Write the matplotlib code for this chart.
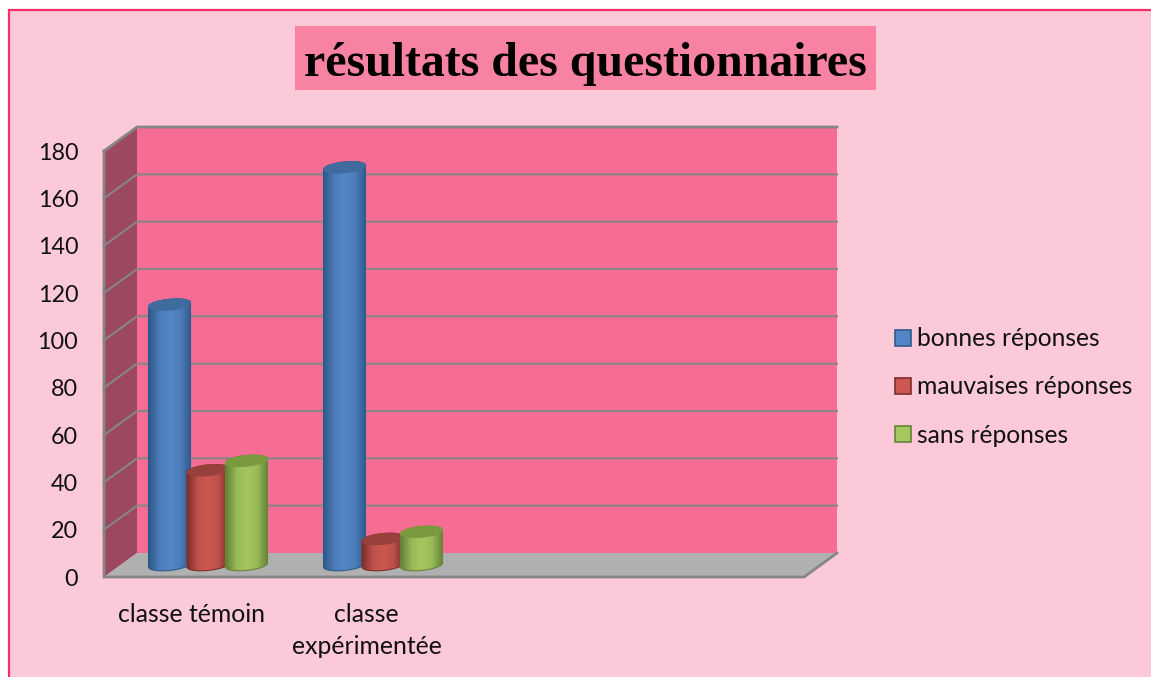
import matplotlib
matplotlib.use('Agg')
import matplotlib.pyplot as plt
import numpy as np
from matplotlib.patches import Patch, Polygon, Rectangle

# values
categories = ["classe témoin", "classe\nexpérimentée", "", ""]
bonnes = [110, 168]
mauvaises = [40, 11]
sans = [44, 14]
series_names = ["bonnes réponses", "mauvaises réponses", "sans réponses"]
yticks = list(range(0, 181, 20))

# edge, centre, top cap, legend fill
blues = ["#2f5b8c", "#5485c6", "#3f6b9f"]
reds = ["#7c2f2c", "#cd5852", "#97403c"]
greens = ["#66833a", "#a4c75f", "#7b9a40"]

BG = "#fcc9d9"
WALL = "#f66d94"
SIDE = "#9c4860"
FLOOR = "#b0b0b0"
GREY = "#868686"

W, H = 1151, 677
plt.rcParams['font.family'] = ['Lato', 'DejaVu Sans']
fig = plt.figure(figsize=(W / 100, H / 100), dpi=100, facecolor='white')

# outer frame runs off the right and bottom of the image
fig.add_artist(Rectangle((8.5 / W, -0.05), 1.1, 1.05 - 9.5 / H, transform=fig.transFigure,
                         facecolor=BG, edgecolor="#f5316c", linewidth=1.6, zorder=-2))
fig.add_artist(Rectangle((295 / W, 1 - 90 / H), 581 / W, 64 / H, transform=fig.transFigure,
                         facecolor="#f882a1", edgecolor='none', zorder=-1))

ax = fig.add_axes([104 / W, (H - 577) / H, 700 / W, 426 / H])
ax.patch.set_alpha(0)
for s in ax.spines.values():
    s.set_visible(False)

xmin, xmax = -0.5, 3.5
ymax = 180
# depth of the fake 3d box in data units
dx = 33 / 175
dy = 24 / (426 / 180)


def poly(points, **kw):
    p = Polygon(points, closed=True, clip_on=False, **kw)
    ax.add_patch(p)
    return p


poly([(xmin + dx, dy), (xmax + dx, dy), (xmax + dx, ymax + dy), (xmin + dx, ymax + dy)],
     facecolor=WALL, edgecolor='none', zorder=1)
poly([(xmin, 0), (xmin + dx, dy), (xmin + dx, ymax + dy), (xmin, ymax)],
     facecolor=SIDE, edgecolor='none', zorder=1)
poly([(xmin, 0), (xmax, 0), (xmax + dx, dy), (xmin + dx, dy)],
     facecolor=FLOOR, edgecolor='none', zorder=1)

for v in yticks[1:]:
    lw = 2.0 if v == ymax else 1.5
    ax.plot([xmin, xmin + dx, xmax + dx], [v, v + dy, v + dy], color=GREY, lw=lw,
            clip_on=False, zorder=2, solid_joinstyle='miter')
ax.plot([xmin, xmin, xmax, xmax + dx], [ymax, 0, 0, dy], color=GREY, lw=2.0,
        clip_on=False, zorder=2, solid_joinstyle='miter')


def cylinder(x, value, cols, z):
    a = 0.12
    b = 2.3
    tilt = 0.85
    t1 = np.linspace(np.pi, 2 * np.pi, 40)
    t2 = np.linspace(0, np.pi, 40)
    x0 = x + dx / 2
    y0 = dy / 2
    bottom = np.c_[x0 + a * np.cos(t1), y0 + b * np.sin(t1) + tilt * np.cos(t1)]
    top = np.c_[x0 + a * np.cos(t2), y0 + value + b * np.sin(t2) + tilt * np.cos(t2)]
    body = poly(np.r_[bottom, top], facecolor='none', edgecolor=cols[0], lw=0.8, zorder=z + 0.1)
    # shaded side of the cylinder
    c0 = np.array(matplotlib.colors.to_rgb(cols[0]))
    c1 = np.array(matplotlib.colors.to_rgb(cols[1]))
    stops = np.interp(np.linspace(0, 1, 64), [0, 0.25, 0.5, 0.75, 1], [0, 0.8, 1, 0.8, 0])
    grad = (c0[None, :] * (1 - stops[:, None]) + c1[None, :] * stops[:, None])[None, :, :]
    im = ax.imshow(grad, extent=(x0 - a, x0 + a, y0 - b - 2, y0 + value + b + 2),
                   aspect='auto', zorder=z, interpolation='bilinear')
    im.set_clip_path(body)
    t = np.linspace(0, 2 * np.pi, 80)
    cap = np.c_[x0 + a * np.cos(t), y0 + value + b * np.sin(t) + tilt * np.cos(t)]
    poly(cap, facecolor=cols[2], edgecolor=cols[2], lw=0.6, zorder=z + 0.2)


offsets = [-0.22, 0.0, 0.22]
all_series = [bonnes, mauvaises, sans]
all_cols = [blues, reds, greens]
z = 3
for i in range(2):
    for off, vals, cols in zip(offsets, all_series, all_cols):
        cylinder(i + off, vals[i], cols, z)
        z += 1

ax.set_xlim(xmin, xmax)
ax.set_ylim(0, ymax)
ax.set_xticks(range(len(categories)))
ax.set_xticklabels(categories, fontsize=17.8, linespacing=1.5, color='#111111')
ax.set_yticks(yticks)
ax.tick_params(axis='y', length=0, pad=18.5, labelsize=16.8, labelcolor='#111111')
ax.tick_params(axis='x', length=0, pad=18.5)

handles = [Patch(facecolor=c[1], edgecolor=c[0], lw=1.2) for c in all_cols]
fig.legend(handles, series_names, loc='upper left', bbox_to_anchor=(888 / W, 1 - 320 / H),
           frameon=False, fontsize=17.7, handlelength=0.62, handleheight=0.62,
           handletextpad=0.25, labelspacing=1.02, borderpad=0.3, borderaxespad=0,
           labelcolor='#111111')

fig.text(585 / W, 1 - 76 / H, "résultats des questionnaires", family='Liberation Serif',
         fontweight='bold', fontsize=34.5, ha='center', va='baseline', color='black')

fig.savefig("out.png", dpi=100, facecolor=fig.get_facecolor())
